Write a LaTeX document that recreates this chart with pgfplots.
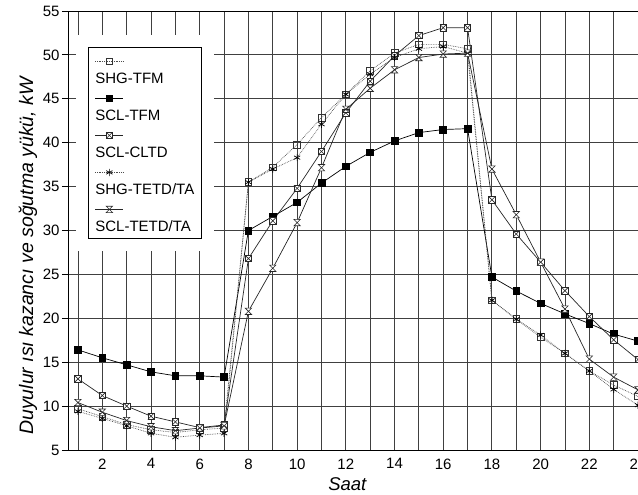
\documentclass[border=0pt]{standalone}
\usepackage{pgfplots}
\pgfplotsset{compat=1.18}
\usepackage{fontspec}
\setmainfont{Liberation Sans}

% square with a cross inside
\pgfdeclareplotmark{sqx}{%
  \pgfpathrectangle{\pgfpoint{-\pgfplotmarksize}{-\pgfplotmarksize}}{\pgfpoint{2\pgfplotmarksize}{2\pgfplotmarksize}}%
  \pgfusepathqfillstroke
  \pgfpathmoveto{\pgfpoint{-\pgfplotmarksize}{-\pgfplotmarksize}}%
  \pgfpathlineto{\pgfpoint{\pgfplotmarksize}{\pgfplotmarksize}}%
  \pgfpathmoveto{\pgfpoint{-\pgfplotmarksize}{\pgfplotmarksize}}%
  \pgfpathlineto{\pgfpoint{\pgfplotmarksize}{-\pgfplotmarksize}}%
  \pgfusepathqstroke}
% hourglass
\pgfdeclareplotmark{hglass}{%
  \pgfpathmoveto{\pgfpoint{-\pgfplotmarksize}{\pgfplotmarksize}}%
  \pgfpathlineto{\pgfpoint{\pgfplotmarksize}{\pgfplotmarksize}}%
  \pgfpathlineto{\pgfpoint{-\pgfplotmarksize}{-\pgfplotmarksize}}%
  \pgfpathlineto{\pgfpoint{\pgfplotmarksize}{-\pgfplotmarksize}}%
  \pgfpathclose
  \pgfusepathqfillstroke}

% legend: line sample above its name
\pgfplotsset{stackleg/.style={legend image code/.code={\draw[##1, overlay, mark repeat=2, mark phase=2] plot coordinates {(0pt,7.5pt) (14pt,7.5pt) (28pt,7.5pt)};}}}

\begin{document}
\begin{tikzpicture}
\begin{axis}[
  scale only axis, width=570pt, height=439pt,
  xmin=0.59, xmax=24, ymin=5, ymax=55,
  xtick={2,4,...,24}, minor xtick={1,3,...,23},
  ytick={5,10,...,55},
  grid=both,
  major grid style={black!75, line width=0.9pt},
  minor grid style={black!75, line width=0.9pt},
  axis line style={black, line width=0.9pt},
  xtick style={draw=none}, minor tick length=0pt,
  ytick pos=left, tick align=outside, major tick length=6pt,
  ytick style={black, line width=0.8pt},
  /pgf/number format/assume math mode=true,
  ticklabel style={font=\fontsize{15}{17}\selectfont},
  xticklabel style={yshift=1pt},
  yticklabel style={xshift=1pt},
  xlabel={Saat},
  xlabel style={font=\fontsize{18.5}{22}\selectfont\itshape, at={(axis description cs:0.49,-0.0915)}, anchor=base},
  ylabel={Duyulur ısı kazancı ve soğutma yükü, kW},
  ylabel style={font=\fontsize{19.5}{22}\selectfont\itshape, at={(axis description cs:-0.0614,0.442)}, anchor=base},
  legend cell align=left,
  stackleg,
  legend style={at={(axis description cs:0,1)}, anchor=north west, xshift=20pt, yshift=-36pt,
    draw=black, line width=0.8pt, fill=white, preaction={draw=white, line width=25pt},
    inner xsep=7pt, inner ysep=3.4pt, /tikz/column sep=0pt, /tikz/row sep=0.8pt,
    nodes={font=\fontsize{15}{18}\selectfont, inner xsep=0pt, inner ysep=0pt, text height=33pt, text depth=3.2pt}},
]
\addplot[black!70, line width=0.7pt, densely dotted, mark=square, mark size=3.4pt, mark options={solid, black!80}] coordinates {
(1,9.7)(2,8.8)(3,7.9)(4,7.3)(5,7.0)(6,7.3)(7,7.5)(8,35.5)(9,37.2)(10,39.8)(11,42.85)(12,45.5)
(13,48.2)(14,50.2)(15,51.2)(16,51.2)(17,50.7)(18,22.05)(19,19.9)(20,17.85)(21,16.0)(22,14.0)(23,12.4)(24,11.1)};
\addlegendentry{SHG-TFM}
\addplot[black, line width=0.7pt, mark=square*, mark size=3.4pt] coordinates {
(1,16.4)(2,15.5)(3,14.7)(4,13.9)(5,13.45)(6,13.45)(7,13.3)(8,30.0)(9,31.6)(10,33.2)(11,35.4)(12,37.3)
(13,38.9)(14,40.2)(15,41.15)(16,41.5)(17,41.6)(18,24.7)(19,23.1)(20,21.7)(21,20.5)(22,19.4)(23,18.2)(24,17.4)};
\addlegendentry{SCL-TFM}
\addplot[black!85, line width=0.7pt, mark=sqx, mark size=3.2pt, mark options={fill=white, line width=0.6pt}] coordinates {
(1,13.1)(2,11.2)(3,10.0)(4,8.85)(5,8.2)(6,7.55)(7,7.85)(8,26.8)(9,31.1)(10,34.8)(11,39.0)(12,43.4)
(13,47.0)(14,49.9)(15,52.2)(16,53.1)(17,53.1)(18,33.5)(19,29.6)(20,26.4)(21,23.15)(22,20.2)(23,17.55)(24,15.3)};
\addlegendentry{SCL-CLTD}
\addplot[black!70, line width=0.7pt, densely dotted, mark=asterisk, mark size=3.6pt, mark options={solid, black}] coordinates {
(1,9.4)(2,8.6)(3,7.75)(4,6.9)(5,6.45)(6,6.7)(7,6.9)(8,35.5)(9,37.0)(10,38.3)(11,42.1)(12,45.5)
(13,47.8)(14,49.7)(15,50.7)(16,50.95)(17,50.2)(18,22.05)(19,19.9)(20,18.1)(21,16.0)(22,14.0)(23,11.9)(24,10.1)};
\addlegendentry{SHG-TETD/TA}
\addplot[black!85, line width=0.7pt, mark=hglass, mark size=3.2pt, mark options={fill=white, line width=0.6pt}] coordinates {
(1,10.4)(2,9.3)(3,8.35)(4,7.65)(5,7.2)(6,7.5)(7,7.75)(8,20.8)(9,25.7)(10,30.9)(11,37.15)(12,43.8)
(13,46.2)(14,48.3)(15,49.7)(16,50.1)(17,50.2)(18,37.0)(19,31.8)(20,26.4)(21,21.05)(22,15.35)(23,13.3)(24,11.85)};
\addlegendentry{SCL-TETD/TA}
\end{axis}
\pgfresetboundingbox
\path ([xshift=-68pt,yshift=-45pt]current axis.south west) rectangle ([yshift=11pt]current axis.north east);
\end{tikzpicture}
\end{document}
